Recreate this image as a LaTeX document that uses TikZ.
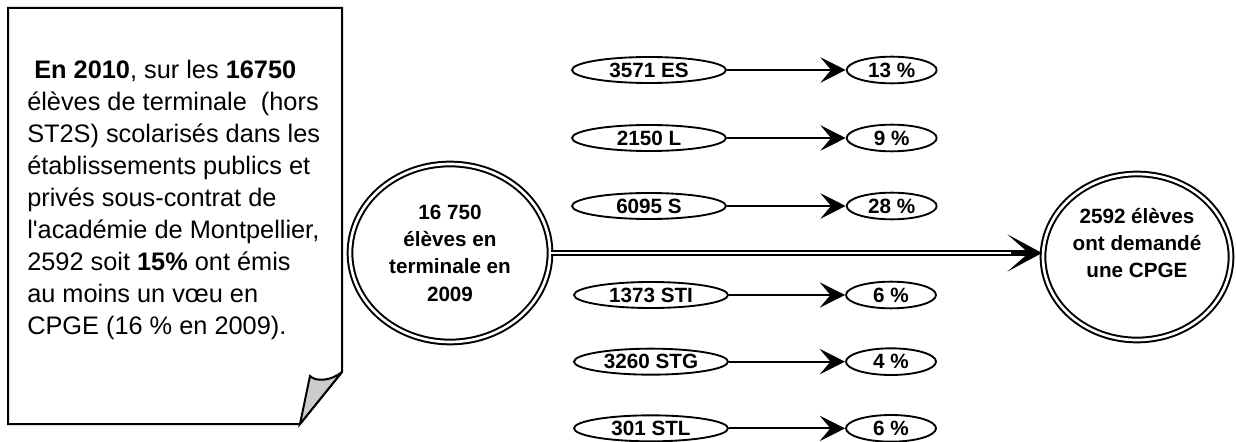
\documentclass[tikz,border=0pt]{standalone}
\usepackage{fontspec}
\setmainfont{Liberation Sans}
\usetikzlibrary{positioning, shapes.geometric, arrows.meta}
\tikzset{NoteFrame/.style={%
    draw=black,%
    line width=1.5pt,%
    line join=miter,%
}}
\tikzset{NoteText/.style={%
    anchor=north west,%
    align=left,%
    inner sep=0pt,%
    font=\fontsize{19}{24}\selectfont,%
}}
\tikzset{BigVertex/.style={%
    shape=ellipse,%
    draw=black,%
    double=white,%
    double distance=2pt,%
    line width=1.5pt,%
    inner sep=0pt,%
    align=center,%
    font=\fontsize{15.5}{20.5}\selectfont\bfseries,%
}}
\tikzset{SeriesVertex/.style={%
    shape=ellipse,%
    draw=black,%
    line width=1.4pt,%
    minimum width=115.5pt,%
    minimum height=19.5pt,%
    inner sep=0pt,%
    font=\fontsize{15.5}{18}\selectfont\bfseries,%
}}
\tikzset{RateVertex/.style={%
    SeriesVertex,%
    minimum width=67.5pt,%
    minimum height=20pt,%
}}
\tikzset{NormalEdge/.style={%
    -{Stealth[length=19pt, width=19pt, inset=8pt]},%
    line width=1.4pt,%
}}
\tikzset{DoubleEdge/.style={%
    double=white,%
    double distance=2.2pt,%
    line width=1.5pt,%
    shorten >=8pt,%
}}
\tikzset{BigHead/.style={%
    -{Stealth[length=26pt, width=28pt, inset=16pt]},%
    line width=1.5pt,%
    shorten <=345pt,%
}}

\begin{document}
\begin{tikzpicture}[x=0.75pt, y=-0.75pt, on grid]
    \useasboundingbox (0,0) rectangle (1236,442);

    % the note on the left
    \draw[NoteFrame] (8,8) -- (342,8) -- (342,372) -- (300,424) -- (8,424) -- cycle;
    \draw[NoteFrame, fill=gray!40] (342,372) -- (300,424) -- (310,376)
        .. controls (316,382) and (331,381) .. (342,372);
    \node[NoteText] (notetext) at (27,60) {%
        \ \textbf{En 2010}, sur les \textbf{16750}\\
        élèves de terminale\ \ (hors\\
        ST2S) scolarisés dans les\\
        établissements publics et\\
        privés sous-contrat de\\
        l\textquotesingle académie de Montpellier,\\
        2592 soit \textbf{15\%} ont émis\\
        au moins un vœu en\\
        CPGE (16 \% en 2009).};

    % the two big circles
    \node[BigVertex, minimum width=150pt, minimum height=133.5pt] (total) at (450,253)
        {16 750\\élèves en\\terminale en\\2009};
    \node[BigVertex, minimum width=141pt, minimum height=124.5pt,
        text depth=21pt] (cpge) at (1137,257)
        {2592 élèves\\ont demandé\\une CPGE};

    % the series
    \node[SeriesVertex] (es) at (649,70) {3571 ES};
    \node[SeriesVertex, below=51pt of es] (l) {2150 L};
    \node[SeriesVertex, below=51pt of l] (s) {6095 S};
    \node[SeriesVertex] (sti) at (651,295) {1373 STI};
    \node[SeriesVertex, below=50pt of sti] (stg) {3260 STG};
    \node[SeriesVertex, below=50pt of stg] (stl) {301 STL};

    \node[RateVertex, right=182pt of es] (pes) {13 \%};
    \node[RateVertex, right=182pt of l] (pl) {9 \%};
    \node[RateVertex, right=182pt of s] (ps) {28 \%};
    \node[RateVertex, right=180pt of sti] (psti) {6 \%};
    \node[RateVertex, right=180pt of stg] (pstg) {4 \%};
    \node[RateVertex, right=180pt of stl] (pstl) {6 \%};

    \path (es) edge[NormalEdge] (pes);
    \path (l) edge[NormalEdge] (pl);
    \path (s) edge[NormalEdge] (ps);
    \path (sti) edge[NormalEdge] (psti);
    \path (stg) edge[NormalEdge] (pstg);
    \path (stl) edge[NormalEdge] (pstl);

    \draw[DoubleEdge] (total.east) -- (total.east -| cpge.west);
    \draw[BigHead] (total.east) -- (total.east -| cpge.west);
\end{tikzpicture}
\end{document}
